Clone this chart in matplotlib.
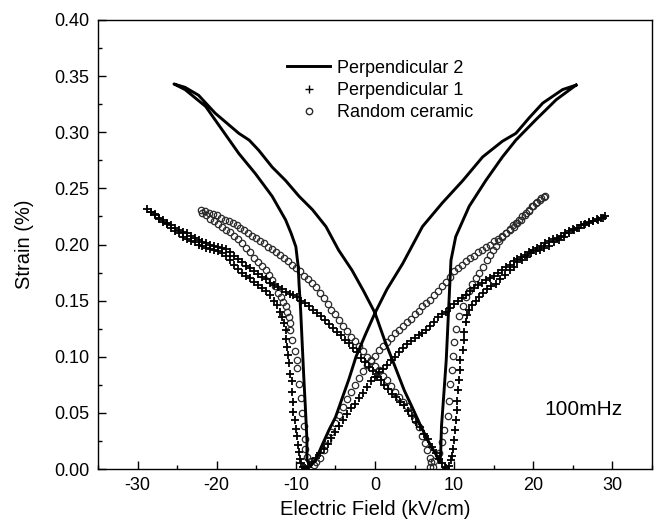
import matplotlib
matplotlib.use("Agg")
import matplotlib.pyplot as plt
from matplotlib.ticker import MultipleLocator, FormatStrFormatter

plt.rcParams['font.family'] = ['Liberation Sans', 'DejaVu Sans']
plt.rcParams['axes.unicode_minus'] = False

# ---- Perpendicular 2 : solid line, one closed butterfly loop ----
p2_E = [25.4, 23.7, 21.2, 19.5, 17.8, 16.1, 13.6, 11.1, 8.5, 6.0, 3.5, 1.5, 0.0, -1.2, -2.4, -3.3,
        -4.2, -5.0, -5.8, -6.7, -7.5, -8.2,
        -8.6, -8.6, -8.8, -9.0, -9.2, -9.4, -9.6, -9.7,
        -10.0, -10.6, -11.3, -13.0, -15.1, -17.2, -19.3, -21.4, -24.0, -25.4,
        -24.0, -22.3, -20.2, -17.2, -15.9, -14.7, -13.0, -11.3, -9.6, -7.9, -6.2, -4.6, -2.9, -1.4,
        0.0, 1.2, 2.6, 3.7, 4.7, 5.8, 6.8, 7.7, 8.2,
        8.3, 8.4, 8.7, 9.0, 9.2, 9.4, 9.6,
        10.2, 11.9, 14.0, 16.1, 17.8, 20.3, 22.9, 25.4]
p2_S = [0.342, 0.338, 0.326, 0.313, 0.299, 0.292, 0.278, 0.257, 0.237, 0.216, 0.183, 0.160, 0.139, 0.120, 0.100, 0.080,
        0.062, 0.046, 0.035, 0.021, 0.008, 0.003,
        0.008, 0.026, 0.055, 0.082, 0.112, 0.142, 0.165, 0.180,
        0.198, 0.210, 0.222, 0.243, 0.263, 0.281, 0.302, 0.323, 0.338, 0.343,
        0.340, 0.333, 0.317, 0.299, 0.293, 0.284, 0.269, 0.257, 0.243, 0.231, 0.216, 0.195, 0.177, 0.158,
        0.139, 0.115, 0.090, 0.070, 0.055, 0.038, 0.024, 0.013, 0.006,
        0.014, 0.038, 0.067, 0.097, 0.127, 0.157, 0.186,
        0.207, 0.234, 0.257, 0.278, 0.293, 0.311, 0.329, 0.342]

# ---- Perpendicular 1 : "+" markers ----
# outer branch, left tip -> right bottom
p1_down_E = [-28.8, -28.3, -27.8, -27.3, -26.8, -26.3, -25.8, -25.3, -24.8, -24.3, -23.8, -23.3, -22.8, -22.3,
             -21.8, -21.3, -20.8, -20.3, -19.8, -19.3, -18.8, -18.3, -17.8, -17.3, -16.8, -16.3, -15.8, -15.3,
             -14.8, -14.3, -13.8, -13.3, -12.8, -12.3, -11.8, -11.3, -10.8, -10.3, -9.8, -9.3, -8.8, -8.3,
             -7.8, -7.3, -6.8, -6.3, -5.8, -5.3, -4.8, -4.3, -3.8, -3.3, -2.8, -2.3, -1.8, -1.3, -0.8, -0.3,
             0.2, 0.7, 1.2, 1.7, 2.2, 2.7, 3.2, 3.7, 4.2, 4.7, 5.2, 5.7, 6.2, 6.7, 7.2, 7.7, 8.1, 8.5, 8.9]
p1_down_S = [0.232, 0.229, 0.227, 0.224, 0.222, 0.219, 0.217, 0.215, 0.213, 0.211, 0.210, 0.208, 0.206, 0.204,
             0.202, 0.201, 0.200, 0.199, 0.198, 0.197, 0.196, 0.193, 0.190, 0.187, 0.184, 0.181, 0.179, 0.176,
             0.174, 0.171, 0.169, 0.166, 0.164, 0.162, 0.160, 0.158, 0.156, 0.155, 0.153, 0.150, 0.148, 0.145,
             0.142, 0.139, 0.136, 0.133, 0.129, 0.126, 0.122, 0.119, 0.115, 0.112, 0.108, 0.104, 0.099, 0.095, 0.091, 0.087,
             0.082, 0.079, 0.075, 0.071, 0.067, 0.064, 0.060, 0.057, 0.052, 0.047, 0.042, 0.037, 0.031, 0.027, 0.020, 0.014, 0.009, 0.005, 0.002]
# outer branch, left bottom -> right tip
p1_up_E = [-8.5, -8.0, -7.5, -7.0, -6.5, -6.0, -5.5, -5.0, -4.5, -4.0, -3.5, -3.0, -2.5, -2.0, -1.5, -1.0, -0.5,
           0.0, 0.5, 1.0, 1.5, 2.0, 2.5, 3.0, 3.5, 4.0, 4.5, 5.0, 5.5, 6.0, 6.5, 7.0, 7.5, 8.0, 8.5, 9.0, 9.5,
           10.0, 10.5, 11.0, 11.5, 12.0, 12.5, 13.0, 13.5, 14.0, 14.5, 15.0, 15.5, 16.0, 16.5, 17.0, 17.5, 18.0,
           18.5, 19.0, 19.5, 20.0, 20.5, 21.0, 21.5, 22.0, 22.5, 23.0, 23.5, 24.0, 24.5, 25.0, 25.5, 26.0, 26.5,
           27.0, 27.5, 28.0, 28.5, 29.0]
p1_up_S = [0.002, 0.006, 0.010, 0.014, 0.018, 0.022, 0.028, 0.033, 0.038, 0.044, 0.049, 0.054, 0.058, 0.063, 0.068, 0.073, 0.078,
           0.082, 0.086, 0.089, 0.093, 0.097, 0.100, 0.104, 0.108, 0.111, 0.114, 0.117, 0.119, 0.121, 0.124, 0.127, 0.131, 0.135, 0.138, 0.140, 0.143,
           0.147, 0.150, 0.152, 0.155, 0.159, 0.161, 0.164, 0.166, 0.168, 0.170, 0.172, 0.175, 0.177, 0.180, 0.182, 0.185, 0.187,
           0.189, 0.191, 0.193, 0.195, 0.197, 0.199, 0.201, 0.203, 0.205, 0.206, 0.208, 0.210, 0.212, 0.214, 0.215, 0.217, 0.218,
           0.220, 0.221, 0.223, 0.224, 0.225]
# inner branch of the left wing, tip -> coercive column -> bottom
p1_left_E = [-28.3, -27.8, -27.3, -26.8, -26.3, -25.8, -25.3, -24.8, -24.3, -23.8, -23.3, -22.8, -22.3, -21.8,
             -21.3, -20.8, -20.3, -19.8, -19.3, -18.8, -18.3, -17.8, -17.3, -16.8, -16.3, -15.8, -15.3, -14.8,
             -14.3, -13.8, -13.3, -12.8, -12.4, -12.0, -11.7, -11.5,
             -11.3, -11.3, -11.1, -11.0, -10.9, -10.7, -10.5, -10.5, -10.4, -10.3, -10.1, -10.0, -9.8, -9.7,
             -9.6, -9.5, -9.3, -9.1, -8.9, -8.7]
p1_left_S = [0.229, 0.226, 0.223, 0.220, 0.218, 0.215, 0.212, 0.210, 0.207, 0.205, 0.203, 0.202, 0.200, 0.199,
             0.197, 0.196, 0.195, 0.194, 0.192, 0.190, 0.186, 0.182, 0.178, 0.175, 0.172, 0.170, 0.167, 0.164,
             0.161, 0.159, 0.155, 0.150, 0.146, 0.140, 0.135, 0.130,
             0.124, 0.116, 0.109, 0.102, 0.094, 0.085, 0.078, 0.069, 0.060, 0.051, 0.044, 0.036, 0.029, 0.021,
             0.015, 0.009, 0.005, 0.002, 0.001, 0.000]
# inner branch of the right wing, bottom -> coercive column -> tip
p1_right_E = [9.0, 9.3, 9.6, 9.7, 9.8, 10.0, 10.1, 10.2, 10.3, 10.4, 10.5, 10.6, 10.7, 10.8, 11.1, 11.2, 11.3,
              11.5, 11.6, 11.9, 12.3, 12.8, 13.2, 13.7, 14.2, 14.7, 15.3, 15.8, 16.4, 17.0, 17.5, 18.0, 18.6,
              19.2, 19.7, 20.3, 20.8, 21.4, 22.0, 22.6, 23.3, 23.9, 24.5, 25.2, 25.8, 26.4, 27.0, 27.6, 28.2, 28.8]
p1_right_S = [0.001, 0.003, 0.008, 0.012, 0.018, 0.026, 0.035, 0.044, 0.053, 0.061, 0.070, 0.079, 0.088, 0.097, 0.106, 0.115, 0.122,
              0.131, 0.137, 0.142, 0.146, 0.150, 0.153, 0.157, 0.160, 0.163, 0.165, 0.169, 0.173, 0.177, 0.180, 0.184, 0.186,
              0.189, 0.192, 0.194, 0.195, 0.197, 0.199, 0.202, 0.204, 0.207, 0.210, 0.213, 0.215, 0.217, 0.219, 0.221, 0.222, 0.224]

# ---- Random ceramic : open circles ----
rc_down_E = [-22.0, -21.5, -21.0, -20.5, -20.0, -19.5, -19.0, -18.5, -18.0, -17.5, -17.0, -16.5, -16.0, -15.5,
             -15.0, -14.5, -14.0, -13.5, -13.0, -12.5, -12.0, -11.5, -11.0, -10.5, -10.0, -9.5, -9.0, -8.5,
             -8.0, -7.5, -7.0, -6.5, -6.0, -5.5, -5.0, -4.5, -4.0, -3.5, -3.0, -2.5, -2.0, -1.5, -1.0, -0.5,
             0.0, 0.5, 1.0, 1.5, 2.0, 2.5, 3.0, 3.5, 4.0, 4.5, 5.0, 5.5, 6.0, 6.3, 6.6, 6.9, 7.1, 7.3]
rc_down_S = [0.231, 0.230, 0.228, 0.227, 0.226, 0.224, 0.222, 0.221, 0.219, 0.217, 0.215, 0.213, 0.210, 0.208,
             0.206, 0.203, 0.201, 0.198, 0.196, 0.193, 0.191, 0.188, 0.185, 0.182, 0.179, 0.176, 0.172, 0.169,
             0.166, 0.162, 0.157, 0.152, 0.147, 0.142, 0.138, 0.133, 0.127, 0.123, 0.118, 0.114, 0.110, 0.105, 0.100, 0.096,
             0.092, 0.088, 0.083, 0.079, 0.074, 0.069, 0.064, 0.060, 0.056, 0.051, 0.044, 0.037, 0.029, 0.023, 0.017, 0.010, 0.006, 0.002]
rc_up_E = [-7.5, -7.0, -6.5, -6.0, -5.5, -5.0, -4.5, -4.0, -3.5, -3.0, -2.5, -2.0, -1.5, -1.0, -0.5,
           0.0, 0.5, 1.0, 1.5, 2.0, 2.5, 3.0, 3.5, 4.0, 4.5, 5.0, 5.5, 6.0, 6.5, 7.0, 7.5, 8.0, 8.5, 9.0, 9.5,
           10.0, 10.5, 11.0, 11.5, 12.0, 12.5, 13.0, 13.5, 14.0, 14.5, 15.0, 15.5, 16.0, 16.5, 17.0, 17.5, 18.0,
           18.5, 19.0, 19.5, 20.0, 20.5, 21.0, 21.5]
rc_up_S = [0.006, 0.010, 0.017, 0.026, 0.033, 0.041, 0.048, 0.055, 0.062, 0.069, 0.075, 0.081, 0.087, 0.093, 0.097,
           0.101, 0.106, 0.110, 0.113, 0.117, 0.121, 0.124, 0.127, 0.131, 0.134, 0.138, 0.141, 0.145, 0.148, 0.151, 0.155, 0.159, 0.163, 0.167, 0.171,
           0.176, 0.179, 0.182, 0.185, 0.188, 0.190, 0.193, 0.195, 0.198, 0.200, 0.203, 0.205, 0.208, 0.210, 0.213, 0.216, 0.219,
           0.222, 0.226, 0.230, 0.234, 0.238, 0.241, 0.243]
rc_left_E = [-21.8, -21.3, -20.8, -20.3, -19.8, -19.3, -18.8, -18.3, -17.8, -17.3, -16.8, -16.3, -15.8, -15.3,
             -14.8, -14.3, -13.8, -13.4, -13.0, -12.6, -12.2, -11.9, -11.6, -11.3, -11.1,
             -10.9, -10.8, -10.7, -10.5, -10.1, -9.9, -9.9, -9.6, -9.4, -9.2, -9.0, -8.9, -8.8, -8.6, -8.1, -7.7]
rc_left_S = [0.228, 0.226, 0.223, 0.221, 0.218, 0.216, 0.213, 0.211, 0.208, 0.205, 0.201, 0.197, 0.193, 0.188,
             0.184, 0.181, 0.177, 0.173, 0.168, 0.163, 0.157, 0.153, 0.149, 0.145, 0.140,
             0.135, 0.130, 0.124, 0.115, 0.105, 0.097, 0.090, 0.076, 0.063, 0.050, 0.038, 0.027, 0.018, 0.011, 0.007, 0.004]
rc_right_E = [7.0, 7.5, 8.1, 8.5, 8.7, 9.2, 9.4, 9.5, 9.7, 9.9, 10.0, 10.2, 10.6, 11.1, 11.5, 11.9, 12.3, 12.7,
              13.1, 13.6, 14.1, 14.5, 14.9, 15.3, 15.7, 16.1, 16.5, 17.0, 17.4, 17.8, 18.2, 18.6, 19.1, 19.5,
              19.9, 20.3, 20.8, 21.3]
rc_right_S = [0.002, 0.007, 0.014, 0.024, 0.035, 0.047, 0.061, 0.076, 0.088, 0.101, 0.113, 0.125, 0.136, 0.145, 0.153, 0.159, 0.165, 0.170,
              0.175, 0.180, 0.186, 0.191, 0.195, 0.199, 0.203, 0.207, 0.210, 0.214, 0.217, 0.219, 0.222, 0.225, 0.228, 0.231,
              0.234, 0.237, 0.240, 0.242]

p1_E = p1_down_E + p1_up_E + p1_left_E + p1_right_E
p1_S = p1_down_S + p1_up_S + p1_left_S + p1_right_S
rc_E = rc_down_E + rc_up_E + rc_left_E + rc_right_E
rc_S = rc_down_S + rc_up_S + rc_left_S + rc_right_S

fig = plt.figure(figsize=(6.56, 5.29), dpi=100)
ax = fig.add_axes([0.1494, 0.1134, 0.8445, 0.8488])

h_rc, = ax.plot(rc_E, rc_S, linestyle='none', marker='o', markersize=4.6,
                markerfacecolor='none', markeredgecolor='#2a2a2a', markeredgewidth=0.9,
                label='Random ceramic')
h_p1, = ax.plot(p1_E, p1_S, linestyle='none', marker='+', markersize=6,
                color='black', markeredgewidth=1.3, label='Perpendicular 1')
h_p2, = ax.plot(p2_E, p2_S, color='black', linewidth=2.1, label='Perpendicular 2')

ax.set_xlim(-35, 35)
ax.set_ylim(0, 0.40)
ax.xaxis.set_major_locator(MultipleLocator(10))
ax.xaxis.set_minor_locator(MultipleLocator(5))
ax.yaxis.set_major_locator(MultipleLocator(0.05))
ax.yaxis.set_minor_locator(MultipleLocator(0.025))
ax.yaxis.set_major_formatter(FormatStrFormatter('%.2f'))
ax.tick_params(which='both', direction='in', top=False, right=False, width=1)
ax.tick_params(which='major', length=6, labelsize=13, pad=6)
ax.tick_params(which='minor', length=3)
for s in ax.spines.values():
    s.set_linewidth(1.0)

ax.set_xlabel('Electric Field (kV/cm)', fontsize=14.5, labelpad=4)
ax.set_ylabel('Strain (%)', fontsize=14.5, labelpad=15)

leg = ax.legend(handles=[h_p2, h_p1, h_rc], loc='upper left', bbox_to_anchor=(0.341, 0.912),
                frameon=False, fontsize=13, handlelength=2.4, handletextpad=0.4,
                labelspacing=0.3, borderpad=0, borderaxespad=0, numpoints=1)
for lh in leg.legend_handles[1:]:
    lh.set_markeredgewidth(1.0)

ax.text(21.4, 0.053, '100mHz', fontsize=15, va='center', ha='left')

plt.savefig('out.png', dpi=100)
